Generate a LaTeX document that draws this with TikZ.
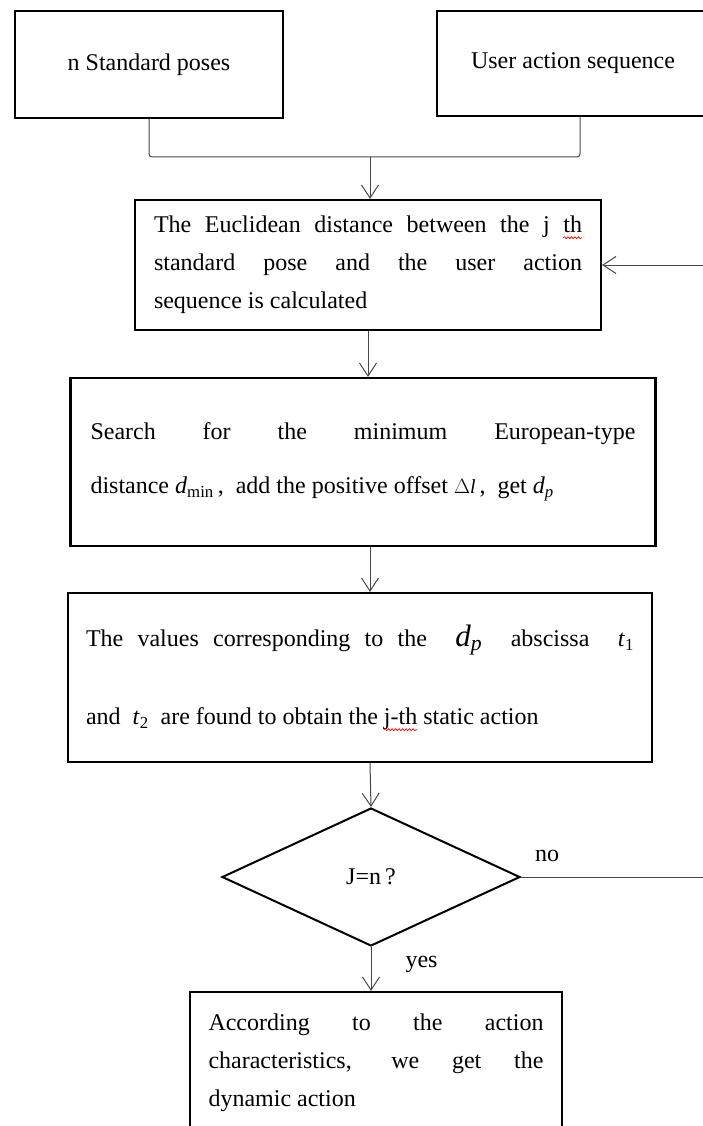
\documentclass[tikz,border=0pt]{standalone}
\usepackage{fontspec}
\setmainfont{Liberation Serif}
\usetikzlibrary{arrows.meta, positioning, shapes.geometric, decorations.pathmorphing}
% red spell-check squiggle under a word
\newcommand\spellwave[1]{\setbox0\hbox{#1}\usebox0%
  \tikz[overlay, baseline=0pt]\draw[red, line width=0.7pt, decorate,
    decoration={snake, amplitude=1pt, segment length=3.5pt}] (-\wd0,-5pt) -- (0pt,-5pt);}
% italic symbol with a subscript, in the text font
\newcommand\sym[2]{\textit{#1}\textsubscript{#2}}
\newcommand\flowfont[1]{\fontsize{24}{#1}\selectfont}

\begin{document}
\begin{tikzpicture}[x=1pt, y=-1pt,
    box/.style={rectangle, draw=black, line width=2.2pt, inner sep=0pt,
                font=\flowfont{38}},
    textbox/.style={box, align=justify, text width=#1},
    decision/.style={diamond, draw=black, line width=2pt, inner sep=0pt,
                aspect=2.16, minimum width=298pt, minimum height=138pt,
                font=\flowfont{28}},
    link/.style={draw=black!72, line width=1pt},
    arrow/.style={link, -{Straight Barb[length=13pt, width=17pt, line width=1pt]}},
    lbl/.style={font=\flowfont{28}, inner sep=0pt},
  ]
    \useasboundingbox (0,0) rectangle (703,1126);
    \clip (0,0) rectangle (703,1126);

    % inputs
    \node[box, minimum width=268pt, minimum height=107pt] (poses) at (149,64.5)
      {n Standard poses};
    \node[box, minimum width=272pt, minimum height=105pt] (users) at (573,63.5)
      {User action sequence};

    % steps
    \node[textbox=428pt, minimum width=466pt, minimum height=130pt] (dist) at (368,265)
      {The Euclidean distance between the j \spellwave{th}\linebreak
       standard pose and the user action\linebreak
       sequence is calculated};
    \node[textbox=545pt, minimum width=585pt, minimum height=168pt,
          font=\flowfont{54}] (search) at (363,462)
      {Search for the minimum European-type\linebreak
       distance \sym{d}{min}\,,\ \ add the positive offset {\fontsize{20}{20}\selectfont$\Delta$\textit{l}}\,,\ \ get \sym{d}{\textit{p}}\par
       \vspace{10pt}};
    \node[textbox=548pt, minimum width=584pt, minimum height=169pt,
          font=\flowfont{78}] (values) at (360,677.5)
      {The values corresponding to the \ {\fontsize{31}{31}\selectfont\sym{d}{\textit{p}}}\ \ abscissa\ \ \sym{t}{1}\linebreak
       and\ \ \sym{t}{2}\ \ are found to obtain the \spellwave{j-th} static action};
    \node[decision] (check) at (371,877) {J=n\,?};
    \node[textbox=335pt, minimum width=372pt, minimum height=142pt] (result) at (376,1063)
      {According to the action\linebreak
       characteristics, we get the\linebreak
       dynamic action};

    % merge of the two inputs
    \coordinate (merge) at (370,157);
    \draw[link, rounded corners=3pt] (poses.south) |- (merge)
      -| ([xshift=7pt]users.south);
    \draw[arrow] (merge) -- (merge |- dist.north);

    \draw[arrow] (dist.south) -- (dist.south |- search.north);
    \draw[arrow] ([xshift=7pt]search.south) -- ([xshift=7pt]search.south |- values.north);
    \draw[arrow] ([xshift=10pt]values.south) -- (check.north);
    \draw[arrow] (check.south) -- (check.south |- result.north)
      node[lbl, pos=0.4, right=34pt] {yes};

    % loop back for the next pose
    \draw[arrow] (check.east) -- ++(200,0) |- (dist.east);
    \node[lbl] (no) at (547,856) {no};
  \end{tikzpicture}
\end{document}
